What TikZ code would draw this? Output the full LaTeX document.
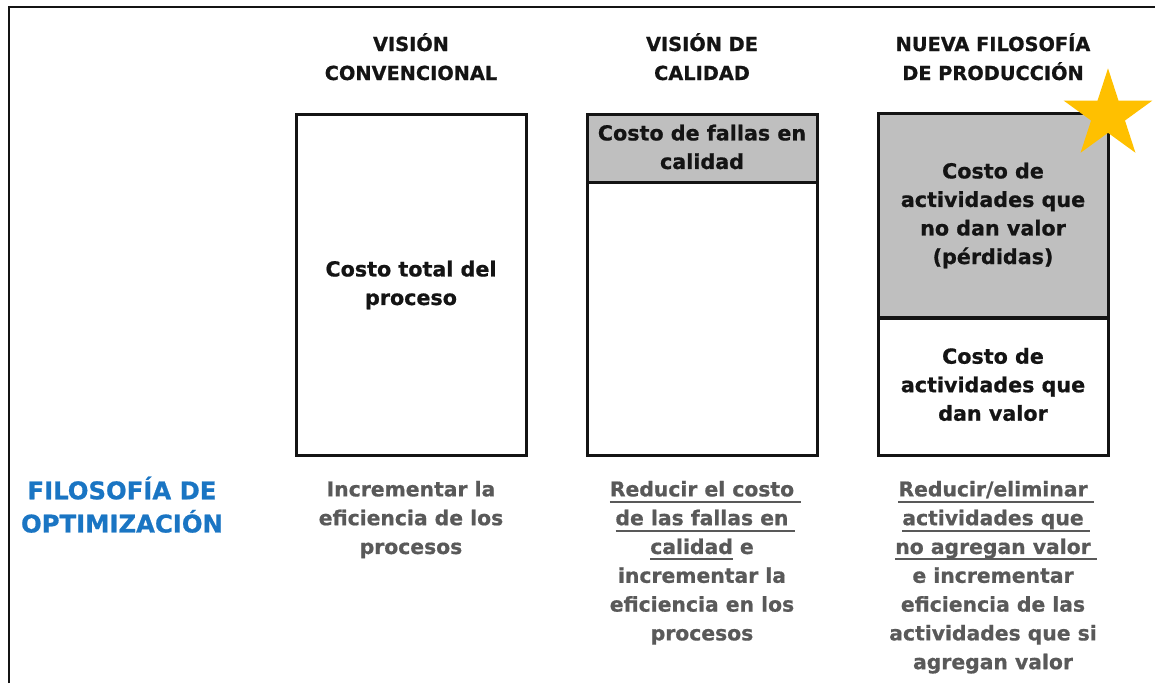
\documentclass[tikz,border=0pt]{standalone}
\usepackage{fontspec}
\setmainfont{DejaVu Sans}[BoldFeatures={FakeBold=0.8}]
\usetikzlibrary{shapes.geometric}
\definecolor{boxgray}{HTML}{BFBFBF}
\definecolor{txtgray}{HTML}{595959}
\definecolor{optblue}{HTML}{1A75C3}
\definecolor{stargold}{HTML}{FFC000}
\definecolor{ink}{HTML}{141414}
\newcommand\ulx[1]{\setbox0\hbox{#1}\rlap{\rule[-4.8pt]{\wd0}{1.5pt}}\box0\relax}
\newcommand\ulxs[1]{\setbox0\hbox{#1}\rlap{\rule[-4.8pt]{\dimexpr\wd0+5pt\relax}{1.5pt}}\box0\relax}
\begin{document}
\begin{tikzpicture}[x=0.75pt,y=0.75pt,
  head/.style={anchor=north, align=center, text=ink, font=\fontsize{14.5}{21.75}\selectfont\bfseries},
  cell/.style={draw=ink, line width=2.25pt, minimum width=172.5pt, inner sep=0pt, align=center, text=ink, font=\fontsize{15.5}{21.4}\selectfont\bfseries},
  note/.style={anchor=north, align=center, text=txtgray, font=\fontsize{15.25}{21.6}\selectfont\bfseries},
  optlabel/.style={anchor=north, align=center, text=optblue, font=\fontsize{18.25}{23.25}\selectfont\bfseries}
]
\useasboundingbox (0,0) rectangle (1155,683);
% frame
\draw[ink, line width=1.5pt] (8.5,0) -- (8.5,676) -- (1155,676);
% headers
\node[head] (h1) at (411,657) {\strut VISIÓN\\CONVENCIONAL\strut};
\node[head] (h2) at (702,657) {\strut VISIÓN DE\\CALIDAD\strut};
\node[head] (h3) at (993,657) {\strut NUEVA FILOSOFÍA\\DE PRODUCCIÓN\strut};
% column 1
\node[cell, minimum height=255pt] (b1) at (411,398) {\strut Costo total del\\proceso\strut};
% column 2
\node[cell, minimum height=204pt] (b2bot) at (702,364) {};
\node[cell, fill=boxgray, minimum height=51pt] (b2top) at (702,534) {\strut Costo de fallas en\\calidad\strut};
% column 3
\node[cell, minimum height=102.75pt] (b3bot) at (993,296.5) {\strut Costo de\\actividades que\\dan valor\strut};
\node[cell, fill=boxgray, minimum height=152.25pt] (b3top) at (993,467.5) {\strut Costo de\\actividades que\\no dan valor\\(pérdidas)\strut};
% star
\node[star, star points=5, star point ratio=2.618, minimum size=70pt, inner sep=0pt, fill=stargold, draw=none] (star) at (1108,568) {};
% left label
\node[optlabel] (opt) at (122,211) {\strut FILOSOFÍA DE\\OPTIMIZACIÓN\strut};
% bottom notes
\node[note] (n1) at (411,211.5) {\strut Incrementar la\\eficiencia de los\\procesos\strut};
\node[note] (n2) at (702,211.5) {\strut\ulxs{Reducir el costo}\\\ulxs{de las fallas en}\\\ulx{calidad} e\\incrementar la\\eficiencia en los\\procesos\strut};
\node[note] (n3) at (993,211.5) {\strut\ulxs{Reducir/eliminar}\\\ulxs{actividades que}\\\ulxs{no agregan valor}\\e incrementar\\eficiencia de las\\actividades que si\\agregan valor\strut};
\end{tikzpicture}
\end{document}
